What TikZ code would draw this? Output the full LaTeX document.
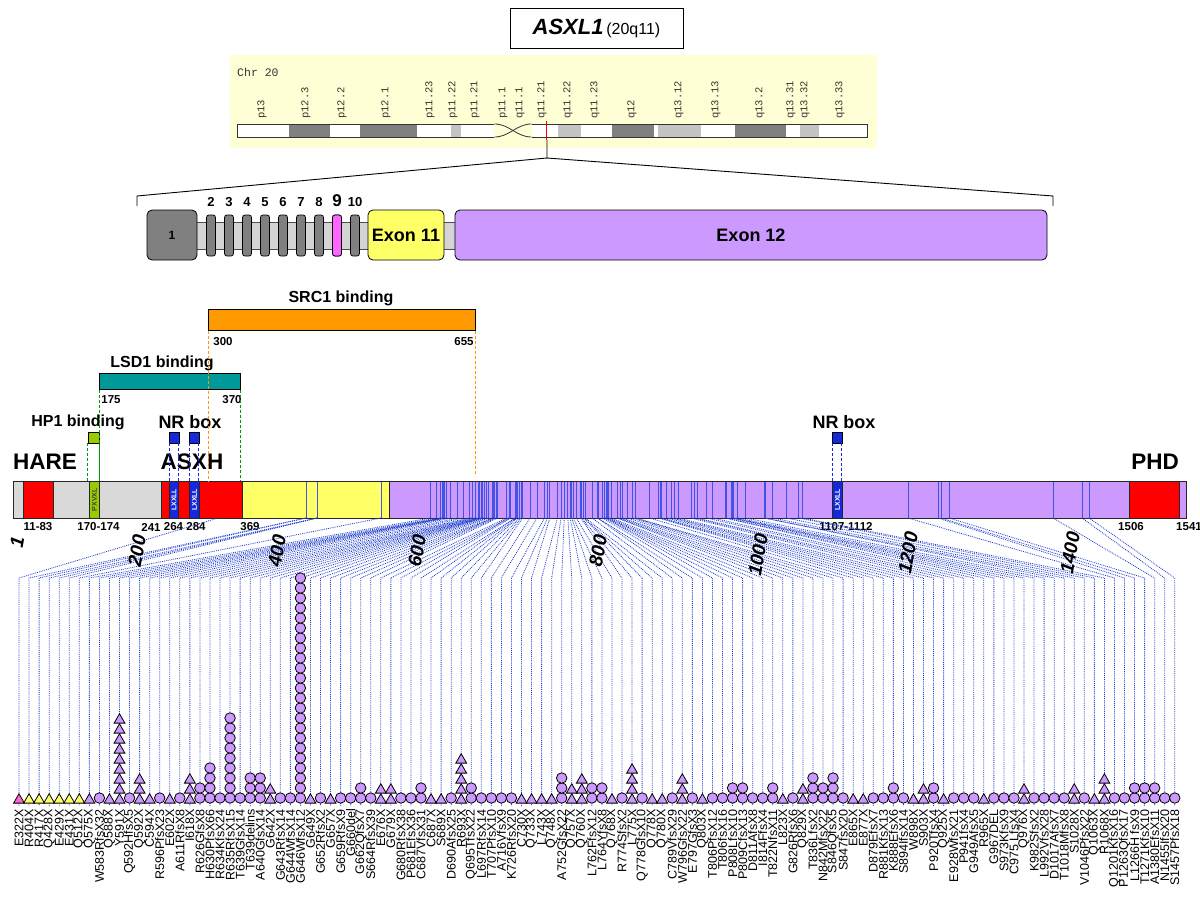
\documentclass[tikz,border=0pt]{standalone}
\usepackage{fontspec}
\setmainfont{Liberation Sans}
\setmonofont{Liberation Mono}
\usetikzlibrary{shapes.geometric,positioning,calc}

\definecolor{mutpurple}{RGB}{204,153,255}
\definecolor{mutpink}{RGB}{255,102,204}
\definecolor{exyellow}{RGB}{255,255,102}
\definecolor{exgray}{RGB}{128,128,128}
\definecolor{introngray}{RGB}{212,212,212}
\definecolor{bargray}{RGB}{217,217,217}
\definecolor{exonpink}{RGB}{255,102,255}
\definecolor{srcorange}{RGB}{255,153,0}
\definecolor{lsdteal}{RGB}{0,153,153}
\definecolor{hpgreen}{RGB}{153,204,0}
\definecolor{nrblue}{RGB}{20,40,220}
\definecolor{fanblue}{RGB}{30,60,205}
\definecolor{chrbg}{RGB}{255,255,214}
\definecolor{banddark}{RGB}{128,128,128}
\definecolor{bandlight}{RGB}{196,196,196}

% label / bar position / symbol / count
\newcommand{\mutlist}{E322X/218/mp/1, R404X/306/my/1, R417X/306/my/1, Q428X/317/my/1,
  E429X/317/my/1, E431X/317/my/1, Q512X/381/my/1, Q575X/430.5/mt/1,
  W583RfsX32/436.6/mc/1, Q588X/440.3/mt/1, Y591X/442.6/mt/9, Q592HfsX5/443.4/mc/1,
  Q592X/443.4/mt/3, C594X/444.9/mt/1, R596PfsX23/446.4/mc/1, E602X/450.9/mt/1,
  A611RfsX8/457.7/mc/1, I618X/463.0/mt/3, R626GfsX8/469.0/mc/2, H630PfsX66/472.1/mc/4,
  R634KfsX24/475.1/mc/1, R635RfsX15/475.8/mc/9, T639GfsX14/478.8/mc/1, T639delins/478.8/mc/3,
  A640GfsX14/479.6/mc/3, G642X/481.1/mt/2, G643RfsX14/481.8/mc/1, G644WfsX14/482.6/mc/1,
  G646WfsX12/484.1/mc/23, G649X/486.4/mt/1, G652RfsX2/488.7/mc/1, G657X/492.4/mt/1,
  G659RfsX9/493.9/mc/1, G660del/494.7/mc/1, G662QfsX7/496.2/mc/2, S664RfsX39/497.7/mc/1,
  E676X/506.8/mt/2, G679X/509.0/mt/2, G680RfsX38/509.8/mc/1, P681EfsX36/510.6/mc/1,
  C687VfsX31/515.1/mc/2, C687X/515.1/mt/1, S689X/516.6/mt/1, D690AfsX25/517.4/mc/1,
  R693X/519.6/mt/5, Q695TfsX22/521.1/mc/2, L697RfsX14/522.6/mc/1, T707PfsX10/530.2/mc/1,
  A716VfsX9/537.0/mc/1, K726RfsX20/544.5/mc/1, C730X/547.6/mt/1, Q733X/549.8/mt/1,
  L743X/557.4/mt/1, Q748X/561.1/mt/1, A752GfsX22/564.2/mc/3, Q757X/567.9/mt/2,
  Q760X/570.2/mt/3, L762FfsX12/571.7/mc/2, L764YfsX8/573.2/mc/2, Q768X/576.2/mt/1,
  R774SfsX2/580.8/mc/1, L775X/581.5/mt/4, Q778GfsX10/583.8/mc/1, Q778X/583.8/mt/1,
  Q780X/585.3/mt/1, C789VfsX29/592.1/mc/1, W796GfsX22/597.4/mt/3, E797GfsX3/598.1/mc/1,
  Q803X/602.7/mt/1, T806PfsX12/604.9/mc/1, T806fsX16/604.9/mc/1, P808LfsX10/606.4/mc/2,
  P809CfsX13/607.2/mc/2, D811AfsX8/608.7/mc/1, I814FfsX4/611.0/mc/1, T822NfsX11/617.0/mc/2,
  L823X/617.8/mt/1, G826RfsX6/620.0/mc/1, Q829X/622.3/mt/2, T836LfsX2/627.6/mc/3,
  N842MfsX22/632.1/mc/2, S846QfsX5/635.1/mc/3, S847fsX20/635.9/mc/1, E865X/649.5/mt/1,
  E877X/658.5/mt/1, D879EfsX7/660.0/mc/1, R881KfsX13/661.6/mc/1, K888EfsX6/666.8/mc/2,
  S894IfsX14/671.4/mc/1, W898X/674.4/mt/1, S903X/678.2/mt/2, P920TfsX4/691.0/mc/2,
  Q925X/694.8/mt/1, E928WfsX21/697.0/mc/1, P941fsX4/706.9/mc/1, G949AfsX5/712.9/mc/1,
  R965X/725.0/mt/1, G967DEL/726.5/mc/1, S973KfsX9/731.0/mc/1, C975 LfsX4/732.5/mc/1,
  Q976X/733.3/mt/2, K982SfsX2/737.8/mc/1, L992VfsX28/745.4/mc/1, D1017AfsX7/764.2/mc/1,
  T1018MfsX8/765.0/mc/1, S1028X/772.5/mt/2, V1046PfsX22/786.1/mc/1, Q1063X/798.9/mt/1,
  R1068X/802.7/mt/3, Q1201KfsX16/908/mc/1, P1263QfsX17/938/mc/1, L1266H fsX9/941/mc/2,
  T1271KfsX10/949/mc/2, A1380EfsX11/1053/mc/2, N1455IfsX20/1082/mc/1, S1457PfsX18/1089/mc/1}

\begin{document}
\begin{tikzpicture}[x=1pt, y=-1pt,
        seg/.style = {draw=black!85, line width=0.7pt, inner sep=0pt, minimum height=37pt, anchor=north west},
        motif/.style = {seg, fill=nrblue, text=white, font=\bfseries\fontsize{7}{8}\selectfont},
        exon/.style = {draw=black, line width=0.8pt, rounded corners=5pt, inner sep=0pt, minimum height=50pt, font=\bfseries\fontsize{18}{20}\selectfont},
        thinexon/.style = {draw=black, line width=0.7pt, fill=exgray, rounded corners=2.5pt, inner sep=0pt, minimum width=9pt, minimum height=41pt},
        exnum/.style = {font=\bfseries\fontsize{13}{14}\selectfont, inner sep=0pt},
        band/.style = {font=\ttfamily\fontsize{10.5}{11}\selectfont, rotate=90, anchor=west, inner sep=0pt, text=black!80},
        lbl/.style = {font=\bfseries\fontsize{11.5}{12}\selectfont, inner sep=0pt},
        dom/.style = {font=\bfseries\fontsize{16}{18}\selectfont, inner sep=0pt},
        nrlbl/.style = {font=\bfseries\fontsize{18}{20}\selectfont, inner sep=0pt},
        big/.style = {font=\bfseries\fontsize{22.5}{24}\selectfont, inner sep=0pt},
        tick/.style = {font=\bfseries\itshape\fontsize{19}{20}\selectfont, rotate=80, inner sep=0pt},
        mut/.style = {font=\fontsize{12.5}{13}\selectfont, rotate=90, anchor=east, inner sep=0pt},
        domainbox/.style = {draw=black, line width=0.8pt, inner sep=0pt, anchor=north west},
        sq/.style = {draw=black, line width=0.7pt, inner sep=0pt, minimum width=10pt, minimum height=11pt},
        link/.style = {dashed, dash pattern=on 3pt off 2pt, line width=0.8pt},
        fan/.style = {draw=fanblue, dash pattern=on 0.9pt off 1pt, line width=0.8pt},
        mline/.style = {draw=nrblue!80, line width=0.9pt},
        mc/.style = {circle, draw=black, line width=0.8pt, fill=mutpurple, minimum size=10.5pt, inner sep=0pt},
        mtri/.style = {regular polygon, regular polygon sides=3, draw=black, line width=0.8pt, minimum size=12.5pt, inner sep=0pt, yshift=-2pt},
        mt/.style = {mtri, fill=mutpurple},
        mp/.style = {mtri, fill=mutpink},
        my/.style = {mtri, fill=exyellow}
    ]
    \useasboundingbox (0,0) rectangle (1200,900);

    % Title
    \node[draw=black, line width=1pt, minimum width=173pt, minimum height=40pt, inner sep=0pt] (title) at (596.5,28)
        {{\fontsize{22}{24}\selectfont\bfseries\itshape ASXL1}\ {\fontsize{16}{18}\selectfont (20q11)}};

    % Chromosome 20 ideogram
    \fill[chrbg] (230,55) rectangle (877,148);
    \node[font=\ttfamily\fontsize{11.5}{12}\selectfont, anchor=west, inner sep=0pt, text=black!80] (chr) at (237,72) {Chr 20};
    \fill[white] (237.7,124) rectangle (494.4,137);
    \fill[white] (531.5,124) rectangle (867,137);
    \foreach \xa/\xb/\col in {289.4/330.3/banddark, 359.7/416.5/banddark, 450.6/461.2/bandlight,
        558/581/bandlight, 612/653.5/banddark, 657.7/700.6/bandlight, 734.7/786/banddark, 800/819/bandlight}
        \fill[\col] (\xa,124) rectangle (\xb,137);
    \draw[black!80, line width=0.8pt] (494.4,124) -- (237.7,124) -- (237.7,137) -- (494.4,137);
    \draw[black!80, line width=0.8pt] (531.5,124) -- (867,124) -- (867,137) -- (531.5,137);
    \draw[black!80, line width=0.8pt] (494.4,124) to[out=0, in=180] (531.5,137);
    \draw[black!80, line width=0.8pt] (494.4,137) to[out=0, in=180] (531.5,124);
    \foreach \b/\x [count=\j] in {p13/262, p12.3/306, p12.2/342, p12.1/386, p11.23/430, p11.22/453,
        p11.21/475, p11.1/503, q11.1/520, q11.21/542, q11.22/568, q11.23/595, q12/632, q13.12/679,
        q13.13/716, q13.2/760, q13.31/791, q13.32/805, q13.33/840}
        \node[band] (bd\j) at (\x,119) {\b};
    \draw[red, line width=1.8pt] (546.5,121) -- (546.5,140);

    % Zoom onto the gene
    \coordinate (mark) at (547,140);
    \coordinate (zj) at (547,158);
    \coordinate (zl) at (137,196);
    \coordinate (zr) at (1053,196);
    \draw[line width=0.9pt] (mark) -- (zj) -- (zl) -- ++(0,10);
    \draw[line width=0.9pt] (zj) -- (zr) -- ++(0,10);

    % Gene structure
    \node[draw=black!70, line width=0.6pt, fill=introngray, minimum width=260pt, minimum height=27pt, inner sep=0pt] (intron) at (326.5,236) {};
    \node[exon, fill=exgray, minimum width=50pt, font=\bfseries\fontsize{12}{13}\selectfont] (ex1) at (172,235) {1};
    \foreach \x/\t [count=\j from 2] in {211/2, 229/3, 247/4, 265/5, 283/6, 301/7, 319/8, 337/9, 355/10}
        \node[thinexon] (ex\j) at (\x,235.5) {};
    \foreach \x/\t in {211/2, 229/3, 247/4, 265/5, 283/6, 301/7, 319/8, 355/10}
        \node[exnum] (num\t) at (\x,202) {\t};
    \node[exnum, font=\bfseries\fontsize{17}{18}\selectfont] (num9) at (337,200.5) {9};
    \node[thinexon, fill=exonpink] at (ex9) {};
    \node[exon, fill=exyellow, minimum width=76pt] (ex11) at (406,235) {Exon 11};
    \node[exon, fill=mutpurple, minimum width=592pt] (ex12) at (751,235) {Exon 12};

    % Binding regions
    \node[domainbox, fill=srcorange, minimum width=267pt, minimum height=21pt] (src) at (208,309) {};
    \node[dom] (srclbl) at (341,298) {SRC1 binding};
    \node[lbl] (s300) at (223,342) {300};
    \node[lbl] (s655) at (464,342) {655};
    \node[domainbox, fill=lsdteal, minimum width=141pt, minimum height=16pt] (lsd) at (99,373) {};
    \node[dom] (lsdlbl) at (162,363) {LSD1 binding};
    \node[lbl] (l175) at (111,400) {175};
    \node[lbl] (l370) at (232,400) {370};
    \node[dom] (hplbl) at (78,422) {HP1 binding};
    \node[sq, fill=hpgreen, minimum width=11pt] (hp1) at (93.5,437.5) {};
    \node[nrlbl] (nrlbl1) at (190,422) {NR box};
    \node[sq, fill=nrblue] (nr1) at (174,437.5) {};
    \node[sq, fill=nrblue] (nr2) at (194,437.5) {};
    \node[nrlbl] (nrlbl2) at (844,422) {NR box};
    \node[sq, fill=nrblue] (nr3) at (837,437.5) {};
    \node[big] (hare) at (45,462) {HARE};
    \node[big] (asxh) at (192,462) {ASXH};
    \node[big] (phd) at (1155,462) {PHD};

    % Protein bar
    \node[seg, fill=bargray, minimum width=1173pt] (prot) at (13,481) {};
    \node[seg, fill=red, minimum width=30pt] (harebox) at (23,481) {};
    \node[seg, fill=hpgreen, minimum width=10pt, text=black!75, font=\bfseries\fontsize{7}{8}\selectfont] (pxv) at (89,481) {\rotatebox{90}{PXVXL}};
    \node[seg, fill=red, minimum width=81pt] (asxhbox) at (161,481) {};
    \node[motif, minimum width=9pt] (lx1) at (169,481) {\rotatebox{90}{LXXLL}};
    \node[motif, minimum width=10pt] (lx2) at (189,481) {\rotatebox{90}{LXXLL}};
    \node[seg, fill=exyellow, minimum width=147pt] (ex11seg) at (242,481) {};
    \node[seg, fill=mutpurple, minimum width=797pt] (ex12seg) at (389,481) {};
    \node[seg, fill=red, minimum width=50pt] (phdbox) at (1129,481) {};
    \foreach \lab/\bx/\ty/\n [count=\i] in \mutlist {
        \ifnum\i>1 \draw[mline] (\bx,481.5) -- (\bx,517.5); \fi
    }
    \node[motif, minimum width=10pt] (lx3) at (832,481) {\rotatebox{90}{LXXLL}};

    % Dashed links to the bar
    \draw[link, srcorange] (src.south west) -- (src.south west |- prot.north);
    \draw[link, srcorange] (src.south east) -- ++(0,145);
    \draw[link, green!60!black] (lsd.south west) -- (lsd.south west |- prot.north);
    \draw[link, green!60!black] (lsd.south east) -- (lsd.south east |- prot.north);
    \draw[link, green!60!black] (hp1.south west) -- (hp1.south west |- prot.north);
    \draw[link, green!60!black] (hp1.south east) -- (hp1.south east |- prot.north);
    \foreach \s in {nr1, nr2, nr3} {
        \draw[link, nrblue] ($(\s.south west)+(1,0)$) -- ($(\s.south west |- prot.north)+(1,0)$);
        \draw[link, nrblue] ($(\s.south east)+(-1,0)$) -- ($(\s.south east |- prot.north)+(-1,0)$);
    }

    % Positions under the bar
    \node[lbl] (p11) at (38,527) {11-83};
    \node[lbl] (p170) at (98.5,527) {170-174};
    \node[lbl] (p241) at (151,527) {241};
    \node[lbl] (p264) at (173.5,527) {264};
    \node[lbl] (p284) at (196,527) {284};
    \node[lbl] (p369) at (250,527) {369};
    \node[lbl] (p1107) at (846,527) {1107-1112};
    \node[lbl] (p1506) at (1131,527) {1506};
    \node[lbl] (p1541) at (1189,527) {1541};

    % Fan from the bar to the columns
    \foreach \lab/\bx/\ty/\n [count=\i] in \mutlist {
        \pgfmathsetmacro{\cx}{19+(\i-1)*10.05}
        \coordinate (b\i) at (\bx,518);
        \coordinate (t\i) at (\cx,578);
        \coordinate (e\i) at (\cx,806);
        \draw[fan] (b\i) -- (t\i) -- (e\i);
    }

    % Amino acid scale
    \foreach \t/\x/\y [count=\j] in {1/17/542, 200/137/551, 400/277/551, 600/417/551,
        800/598/551, 1000/758/555, 1200/908/553, 1400/1070/553}
        \node[tick] (ax\j) at (\x,\y) {\t};

    % Mutation symbols and names
    \foreach \lab/\bx/\ty/\n [count=\i] in \mutlist {
        \pgfmathsetmacro{\cx}{19+(\i-1)*10.05}
        \foreach \k in {1,...,\n}
            \node[\ty] (m\i-\k) at (\cx,{798-10*(\k-1)}) {};
        \node[mut] (l\i) at (\cx,809) {\lab};
    }
\end{tikzpicture}
\end{document}
